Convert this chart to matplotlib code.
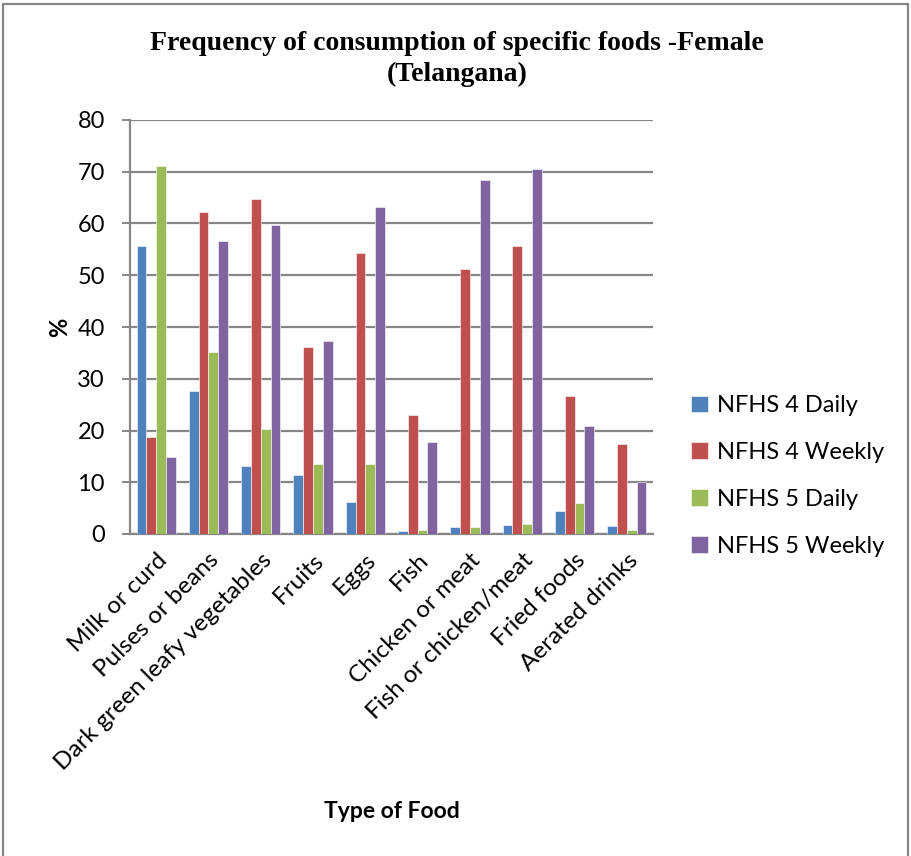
import numpy as np
import matplotlib
matplotlib.use("Agg")
import matplotlib.pyplot as plt
from matplotlib.patches import Rectangle

# Share (%) of women consuming each food, NFHS-4 vs NFHS-5
foods = ["Milk or curd", "Pulses or beans", "Dark green leafy vegetables",
         "Fruits", "Eggs", "Fish", "Chicken or meat", "Fish or chicken/meat",
         "Fried foods", "Aerated drinks"]
nfhs4_daily = [55.6, 27.6, 13.1, 11.4, 6.1, 0.6, 1.4, 1.7, 4.4, 1.5]
nfhs4_weekly = [18.7, 62.2, 64.8, 36.2, 54.3, 22.9, 51.3, 55.7, 26.7, 17.3]
nfhs5_daily = [71.2, 35.2, 20.3, 13.5, 13.5, 0.8, 1.4, 1.9, 5.9, 0.8]
nfhs5_weekly = [14.8, 56.6, 59.7, 37.3, 63.1, 17.8, 68.5, 70.5, 20.9, 10.0]

series = [
    ("NFHS 4 Daily", nfhs4_daily, "#4F81BD"),
    ("NFHS 4 Weekly", nfhs4_weekly, "#C0504D"),
    ("NFHS 5 Daily", nfhs5_daily, "#9BBB59"),
    ("NFHS 5 Weekly", nfhs5_weekly, "#8064A2"),
]

W, H = 911, 856
font = ["Lato", "DejaVu Sans"]
grid_col = "#868686"

fig = plt.figure(figsize=(W / 100, H / 100), dpi=100)
ax = fig.add_axes([130 / W, 1 - 534 / H, 523 / W, 414 / H])

x = np.arange(len(foods))
bw = 0.1875
for i, (name, vals, col) in enumerate(series):
    ax.bar(x + (i - 1.5) * bw, vals, bw, color=col, label=name,
           edgecolor="white", linewidth=0.4, zorder=3)

ax.set_xlim(-0.5, len(foods) - 0.5)
ax.set_ylim(0, 80)
ax.set_yticks(range(0, 81, 10))
ax.yaxis.grid(True, color=grid_col, linewidth=1.6, zorder=0)
for s in ["top", "right"]:
    ax.spines[s].set_visible(False)
for s in ["left", "bottom"]:
    ax.spines[s].set_color(grid_col)
    ax.spines[s].set_linewidth(1.6)
ax.tick_params(axis="y", length=6, width=1.4, color=grid_col, pad=12,
               labelsize=17)
ax.tick_params(axis="x", length=0, labelsize=17.5, pad=11)
for t in ax.get_yticklabels():
    t.set_family(font)

ax.set_xticks(x)
ax.set_xticklabels(foods, rotation=45, ha="right", rotation_mode="anchor",
                   family=font)

fig.text(392 / W, 1 - 811 / H, "Type of Food", ha="center", va="center",
         fontsize=16.5, fontweight="bold", family=font)
fig.text(60 / W, 1 - 327 / H, "%", ha="center", va="center", rotation=90,
         fontsize=17, fontweight="bold", family=font)
fig.text(457 / W, 1 - 59 / H,
         "Frequency of consumption of specific foods -Female\n(Telangana)",
         ha="center", va="center", fontsize=20, fontweight="bold",
         family=["Liberation Serif", "DejaVu Serif"], linespacing=1.3)

fig.legend(loc="center left", bbox_to_anchor=(670 / W, 1 - 476 / H),
           frameon=False, prop={"family": font, "size": 17},
           handlelength=0.7, handleheight=0.7, handletextpad=0.4,
           labelspacing=1.1)

# chart area border
fig.add_artist(Rectangle((3 / W, -0.01), 905 / W, 1 - 4 / H + 0.01,
                         transform=fig.transFigure, fill=False,
                         edgecolor=grid_col, linewidth=1.6))

fig.savefig("out.png", dpi=100)
